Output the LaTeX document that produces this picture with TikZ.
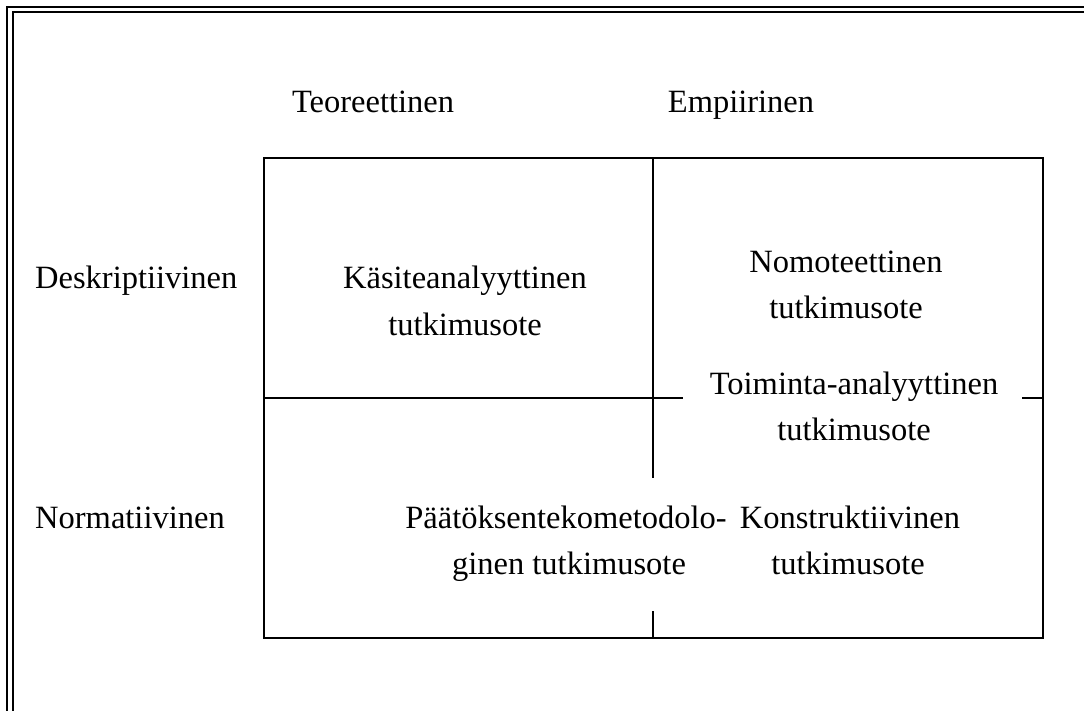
\documentclass[tikz,border=0pt]{standalone}
\usepackage{fontspec}
\setmainfont{Liberation Serif}
\begin{document}
\begin{tikzpicture}[x=1pt,y=-1pt,
  lbl/.style={inner sep=0pt,anchor=base,font=\fontsize{32.5}{46}\selectfont,align=center},
  lbll/.style={inner sep=0pt,anchor=base west,font=\fontsize{32.5}{46}\selectfont},
  gridline/.style={line width=2pt,line cap=rect},
  frameline/.style={line width=2.4pt}]
\useasboundingbox (0,0) rectangle (1084,711);
% page frame (double line)
\draw[frameline] (7,711) -- (7,7) -- (1084,7);
\draw[frameline,line width=2pt] (12.5,711) -- (12.5,12.5) -- (1084,12.5);
% grid
\draw[gridline] (264,158) rectangle (1043,638);
\draw[gridline] (653,158) -- (653,477);
\draw[gridline] (653,612) -- (653,638);
\draw[gridline] (264,398) -- (682,398);
\draw[gridline] (1023,398) -- (1043,398);
% headings
\node[lbl] (teo) at (373,113) {Teoreettinen};
\node[lbl] (emp) at (741,113) {Empiirinen};
\node[lbll] (des) at (35,289) {Deskriptiivinen};
\node[lbll] (nor) at (35,528) {Normatiivinen};
% cells
\node[lbl] (kas1) at (465,289) {Käsiteanalyyttinen};
\node[lbl] (kas2) at (465,335) {tutkimusote};
\node[lbl] (nom1) at (846,273) {Nomoteettinen};
\node[lbl] (nom2) at (846,319) {tutkimusote};
\node[lbl] (toi1) at (854,394) {Toiminta-analyyttinen};
\node[lbl] (toi2) at (854,440) {tutkimusote};
\node[lbl] (paa1) at (566,528) {Päätöksentekometodolo-};
\node[lbl] (paa2) at (569,574) {ginen tutkimusote};
\node[lbl] (kon1) at (850,528) {Konstruktiivinen};
\node[lbl] (kon2) at (848,574) {tutkimusote};
\end{tikzpicture}
\end{document}
